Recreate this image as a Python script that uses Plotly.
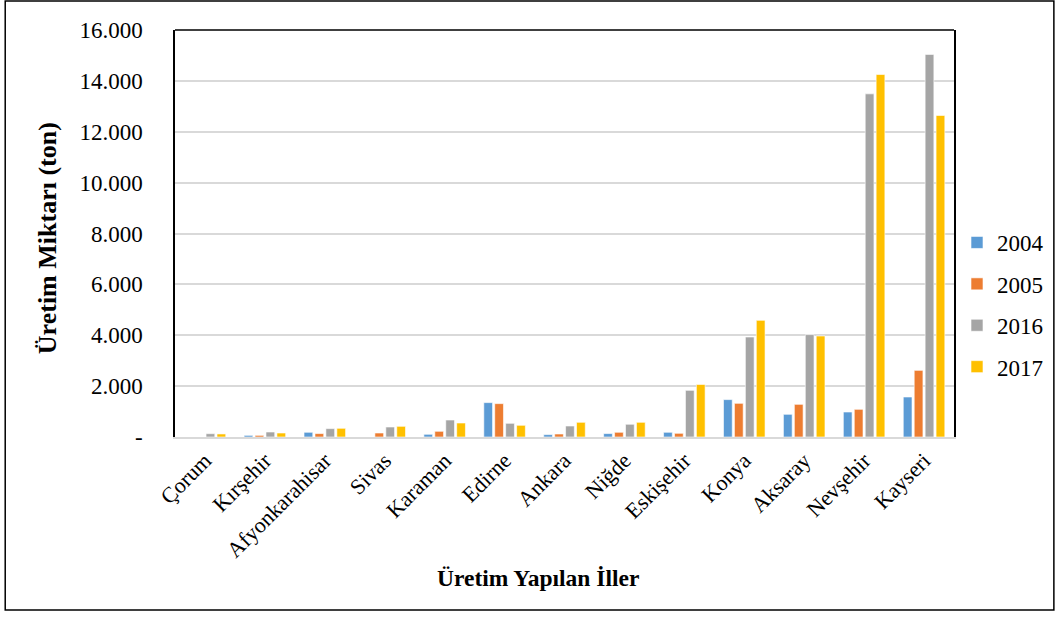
import plotly.graph_objects as go

# Provinces on the category axis
iller = ["Çorum", "Kırşehir", "Afyonkarahisar", "Sivas", "Karaman", "Edirne",
         "Ankara", "Niğde", "Eskişehir", "Konya", "Aksaray", "Nevşehir", "Kayseri"]

# Production (tonnes) per year
uretim_2004 = [0, 65, 185, 0, 106, 1352, 94, 134, 185, 1470, 892, 982, 1572]
uretim_2005 = [0, 65, 134, 157, 224, 1312, 118, 185, 145, 1324, 1284, 1088, 2620]
uretim_2016 = [130, 196, 330, 393, 668, 538, 432, 500, 1835, 3930, 4024, 13490, 15040]
uretim_2017 = [120, 157, 342, 420, 550, 460, 578, 578, 2065, 4585, 3970, 14250, 12640]

yillar = ["2004", "2005", "2016", "2017"]
renkler = ["#5B9BD5", "#ED7D31", "#A5A5A5", "#FFC000"]
seriler = [uretim_2004, uretim_2005, uretim_2016, uretim_2017]

y_tick_vals = [0, 2000, 4000, 6000, 8000, 10000, 12000, 14000, 16000]
y_tick_text = ["-", "2.000", "4.000", "6.000", "8.000", "10.000", "12.000", "14.000", "16.000"]

FONT = "Liberation Serif"

fig = go.Figure()
for yil, renk, deger in zip(yillar, renkler, seriler):
    fig.add_trace(go.Bar(
        x=iller, y=deger, name=yil, legendgroup=yil,
        marker=dict(color=renk, line=dict(color="white", width=0.6)),
    ))

W, H = 1060, 617
L, R, T, B = 175, 105, 30, 180
pw, ph = W - L - R, H - T - B

def px_x(x):
    return (x - L) / pw

def px_y(y):
    return (H - B - y) / ph

fig.update_layout(
    width=W, height=H,
    margin=dict(l=L, r=R, t=T, b=B),
    paper_bgcolor="white", plot_bgcolor="white",
    font=dict(family=FONT, size=22, color="black"),
    barmode="group", bargap=0.27, bargroupgap=0.2,
    showlegend=True,
    legend=dict(
        x=px_x(957), y=px_y(221), xanchor="left", yanchor="top",
        font=dict(family=FONT, size=23, color="black"),
        tracegroupgap=8.5, itemwidth=30,
        bgcolor="rgba(0,0,0,0)",
    ),
    xaxis=dict(
        tickangle=-45, showgrid=False, showline=True,
        linecolor="#D9D9D9", linewidth=2, ticks="",
        tickfont=dict(family=FONT, size=22),
    ),
    yaxis=dict(
        range=[0, 16000], tickvals=y_tick_vals, ticktext=y_tick_text,
        showgrid=True, gridcolor="#D9D9D9", gridwidth=1.5,
        showline=True, linecolor="black", linewidth=1.5, mirror=True,
        ticks="", ticklabelstandoff=26, zeroline=False,
        tickfont=dict(family=FONT, size=23),
    ),
    shapes=[
        # top edge of the plot frame
        dict(type="line", xref="paper", yref="paper", x0=0, x1=1, y0=1, y1=1,
             line=dict(color="black", width=1.5)),
        # outer chart border
        dict(type="rect", xref="paper", yref="paper",
             x0=px_x(5), x1=px_x(1055), y0=px_y(610), y1=px_y(1),
             line=dict(color="black", width=1.5)),
    ],
    annotations=[
        dict(text="<b>Üretim Miktarı (ton)</b>", textangle=-90,
             xref="paper", yref="paper", x=px_x(47), y=px_y(238),
             xanchor="center", yanchor="middle", showarrow=False,
             font=dict(family=FONT, size=26, color="black")),
        dict(text="<b>Üretim Yapılan İller</b>",
             xref="paper", yref="paper", x=px_x(538), y=px_y(578),
             xanchor="center", yanchor="middle", showarrow=False,
             font=dict(family=FONT, size=23.5, color="black")),
    ],
)

fig.write_html("out.html")
